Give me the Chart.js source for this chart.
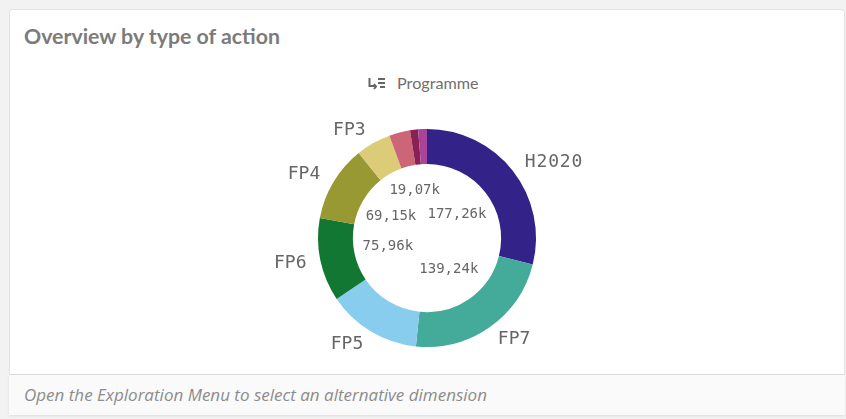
<!DOCTYPE html>
<html><head><meta charset="utf-8">
<script src="https://cdn.jsdelivr.net/npm/chart.js@4"></script>
<style>
html,body{margin:0;padding:0;width:846px;height:419px;overflow:hidden;background:#f2f2f2}
#card{position:absolute;left:9px;top:9px;width:836px;height:366px;background:#fff;border:1px solid #e3e3e3;border-bottom:1px solid #d9d9d9;box-sizing:border-box;border-radius:4px 4px 0 0}
#foot{position:absolute;left:9px;top:375px;width:836px;height:40px;background:#fafafa;box-shadow:0 1px 2px #ddd}
#title{position:absolute;left:24px;top:23px;font:bold 21.3px Lato,sans-serif;color:#7b7b7b;white-space:nowrap}
#note{position:absolute;left:24px;top:383px;font:italic 17px "Open Sans",sans-serif;color:#8c8c8c;white-space:nowrap}
#dim{position:absolute;left:397px;top:73px;font:16.2px Lato,sans-serif;color:#6f6f6f;white-space:nowrap}
#ico{position:absolute;left:368px;top:76px}
canvas{position:absolute;left:0;top:0}
</style></head><body>
<div id="card"></div><div id="foot"></div>
<div id="title">Overview by type of action</div>
<svg id="ico" width="18" height="15" viewBox="0 0 18 15" fill="none" stroke="#666" stroke-width="2">
<path d="M1.5 2V10H7M6 8L8 10.5L6 13M10 3H17M10 7H17M12 11H17"/></svg>
<div id="dim">Programme</div>
<div id="note">Open the Exploration Menu to select an alternative dimension</div>
<canvas id="c" width="846" height="419"></canvas>
<script>
const categories = ['H2020','FP7','FP5','FP6','FP4','FP3','FP2','FP1','Other'];
const values = [177.26,139.24,85.4,75.96,69.15,31.7,19.07,7.3,8];
const colors = ['#332288','#44aa99','#88ccee','#117733','#999933','#ddcc77','#cc6677','#882255','#aa4499'];
const valueLabels = ['177,26k','139,24k','','75,96k','69,15k','','19,07k','',''];
const outerLabels = ['H2020','FP7','FP5','FP6','FP4','FP3','','',''];

const innerRadial = [38,38,0,40,42,0,49,0,0];
const outerDx = [41,24.5,-24,-30,-29.5,-24,0,0,0];
const outerDy = [-9,12.5,12.5,3,-8,-13,0,0,0];
const fp = {
  id:'ringLabels',
  afterDatasetsDraw(chart){
    const ctx = chart.ctx, arcs = chart.getDatasetMeta(0).data;
    ctx.save();
    ctx.textAlign='center'; ctx.textBaseline='middle';
    arcs.forEach((a,i)=>{
      const mid=(a.startAngle+a.endAngle)/2, cx=a.x, cy=a.y;
      if(valueLabels[i]){
        ctx.letterSpacing='0px';
        ctx.font='14px "DejaVu Sans Mono"'; ctx.fillStyle='#666';
        ctx.fillText(valueLabels[i],cx+innerRadial[i]*Math.cos(mid),cy+innerRadial[i]*Math.sin(mid));
      }
      if(outerLabels[i]){
        ctx.letterSpacing=outerLabels[i].length>3?'0.8px':'0px';
        ctx.font='18px "DejaVu Sans Mono"'; ctx.fillStyle='#666';
        ctx.fillText(outerLabels[i],cx+a.outerRadius*Math.cos(mid)+outerDx[i],cy+a.outerRadius*Math.sin(mid)+outerDy[i]);
      }
    });
    ctx.restore();
  }
};
new Chart(document.getElementById('c'),{
  type:'doughnut',
  data:{labels:categories,datasets:[{data:values,backgroundColor:colors,borderWidth:0,hoverOffset:0}]},
  options:{responsive:false,animation:false,cutout:'68%',
    layout:{padding:{left:318,right:310,top:129,bottom:72}},
    plugins:{legend:{display:false},tooltip:{enabled:false}}},
  plugins:[fp]
});
</script></body></html>
